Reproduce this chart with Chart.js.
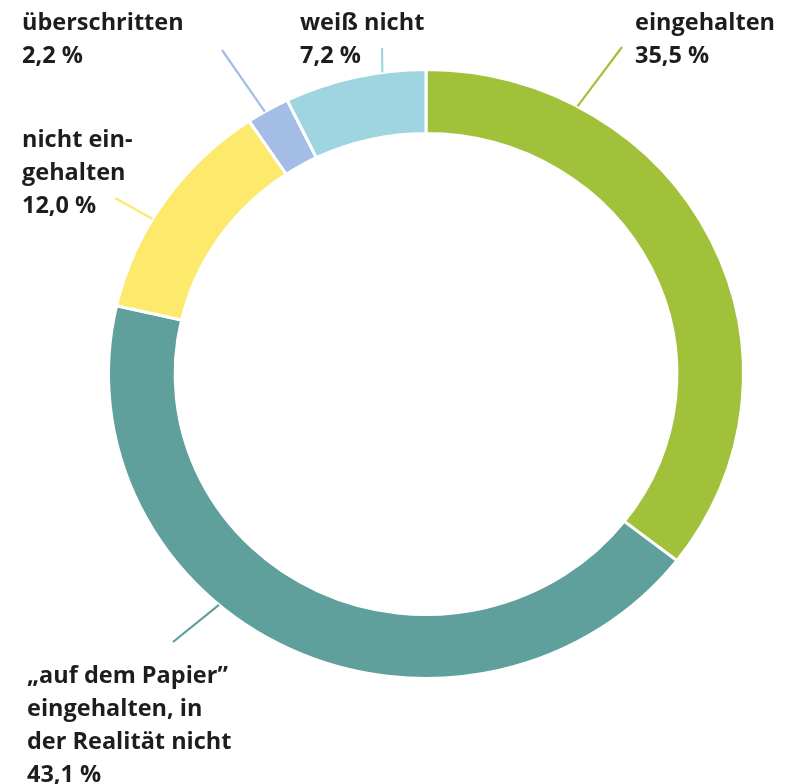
<!DOCTYPE html>
<html>
<head>
<meta charset="utf-8">
<script src="https://cdn.jsdelivr.net/npm/chart.js@4.4.0/dist/chart.umd.min.js"></script>
<style>
  html, body { margin: 0; padding: 0; background: #ffffff; }
  #wrap { width: 798px; height: 784px; position: relative; }
</style>
</head>
<body>
<div id="wrap"><canvas id="c" width="798" height="784"></canvas></div>
<script>
// ---- data ----
const categories = ['eingehalten', '„auf dem Papier” eingehalten, in der Realität nicht', 'nicht eingehalten', 'überschritten', 'weiß nicht'];
const values = [35.5, 43.1, 12.0, 2.2, 7.2];
const labelLines = [
  ['eingehalten'],
  ['„auf dem Papier”', 'eingehalten, in', 'der Realität nicht'],
  ['nicht ein-', 'gehalten'],
  ['überschritten'],
  ['weiß nicht']
];

// ---- styles / layout ----
const colors = ['#a2c13a', '#5f9f9c', '#fde96b', '#a3bde6', '#9fd4e1'];
const labelStyle = [
  { x: 635, y: 30, angle: 28.5, lx: 622, ly: 47 },
  { x: 27, y: 683, angle: 220.7, lx: 173, ly: 642 },
  { x: 22, y: 147, angle: 300.6, lx: 115, ly: 198 },
  { x: 22, y: 30, angle: 329.5, lx: 222, ly: 50 },
  { x: 300, y: 30, angle: 352.1, lx: 382, ly: 48 }
];
const scaleX = 1.0226, scaleY = 0.9806; // reference ring is slightly elliptical
const lineHeight = 33;
const fmt = v => v.toFixed(1).replace('.', ',') + ' %';

const ellipsePlugin = {
  id: 'ellipsePlugin',
  beforeDatasetsDraw(chart) {
    const arc = chart.getDatasetMeta(0).data[0];
    const ctx = chart.ctx;
    ctx.save();
    ctx.translate(arc.x, arc.y);
    ctx.scale(scaleX, scaleY);
    ctx.translate(-arc.x, -arc.y);
  },
  afterDatasetsDraw(chart) {
    chart.ctx.restore();
  }
};

const labelPlugin = {
  id: 'labelPlugin',
  afterDraw(chart) {
    const ctx = chart.ctx;
    const meta = chart.getDatasetMeta(0);
    ctx.save();
    meta.data.forEach((arc, i) => {
      const st = labelStyle[i];
      const a = st.angle * Math.PI / 180;
      const r = arc.outerRadius;
      const px = arc.x + r * scaleX * Math.sin(a);
      const py = arc.y - r * scaleY * Math.cos(a);
      ctx.strokeStyle = colors[i];
      ctx.lineWidth = 2.2;
      ctx.beginPath();
      ctx.moveTo(st.lx, st.ly);
      ctx.lineTo(px, py);
      ctx.stroke();
      ctx.fillStyle = '#1d1d1b';
      ctx.font = 'bold 23.5px "Open Sans"';
      ctx.textAlign = 'left';
      ctx.textBaseline = 'alphabetic';
      const lines = labelLines[i].concat([fmt(values[i])]);
      lines.forEach((t, k) => ctx.fillText(t, st.x, st.y + k * lineHeight));
    });
    ctx.restore();
  }
};

new Chart(document.getElementById('c'), {
  type: 'doughnut',
  data: {
    labels: categories,
    datasets: [{
      data: values,
      backgroundColor: colors,
      borderColor: '#ffffff',
      borderWidth: 3,
      hoverOffset: 0
    }]
  },
  options: {
    responsive: false,
    animation: false,
    cutout: '79%',
    rotation: 0,
    layout: { padding: { left: 114, right: 60, top: 62, bottom: 98 } },
    plugins: { legend: { display: false }, tooltip: { enabled: false } }
  },
  plugins: [ellipsePlugin, labelPlugin]
});
</script>
</body>
</html>
